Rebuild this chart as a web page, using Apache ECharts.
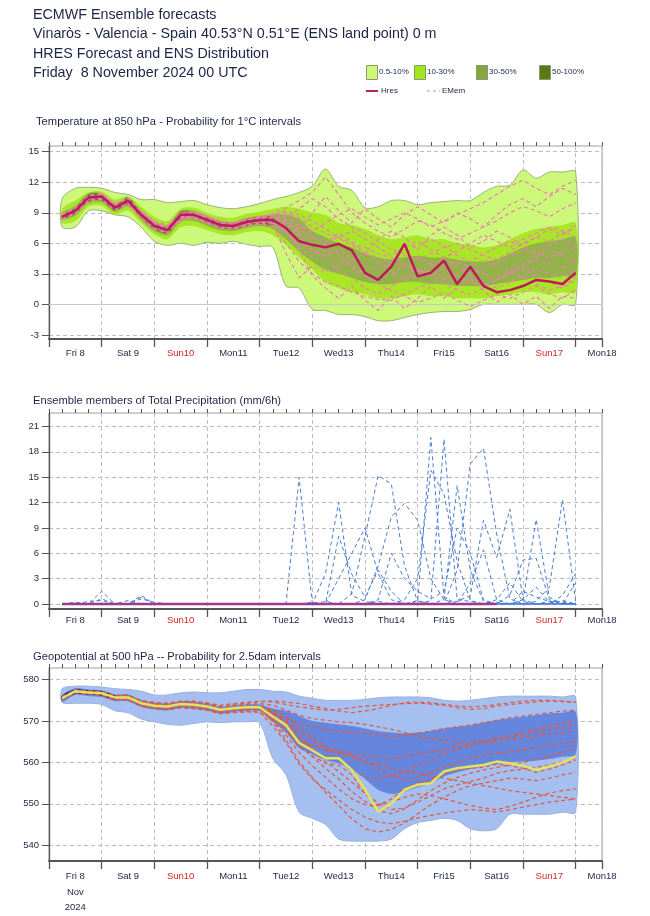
<!DOCTYPE html>
<html><head><meta charset="utf-8">
<script src="https://cdn.jsdelivr.net/npm/echarts@6/dist/echarts.min.js"></script>
<style>html,body{margin:0;padding:0;background:#fff}#c{width:650px;height:916px}</style>
</head><body><div id="c"></div>
<script>
// ---------- time axis (hours from Fri 8 Nov 2024 00 UTC) ----------
const hours = [6,12,18,24,30,36,42,48,54,60,66,72,78,84,90,96,102,108,114,120,126,132,138,144,150,156,162,168,174,180,186,192,198,204,210,216,222,228,234,240];
const dayLabels = ['', 'Fri 8', '', 'Sat 9', '', 'Sun10', '', 'Mon11', '', 'Tue12', '', 'Wed13', '', 'Thu14', '', 'Fri15', '', 'Sat16', '', 'Sun17', '', 'Mon18'];
const sundayLabels = ['Sun10', 'Sun17'];
const dateLines = ['Nov', '2024'];

// ---------- Temperature 850 hPa ----------
const tTicks = [-3, 0, 3, 6, 9, 12, 15];
const tHres = [8.6,9.2,10.5,10.6,9.5,10.2,8.8,7.7,7.3,8.8,8.8,8.3,7.8,7.7,8.1,8.3,8.3,7.5,6.2,5.85,5.6,5.95,5.3,3.1,2.4,3.7,5.95,2.75,3.1,4.3,2.0,3.7,1.8,1.2,1.4,1.8,2.4,2.25,2.0,3.1];
const tOuterLo = [7.6,7.6,9.2,9.2,8.8,8.6,7.6,6.2,5.8,6.0,5.8,6.1,6.0,6.2,5.9,5.7,5.6,1.8,1.6,-0.5,-0.6,-1.0,-1.0,-1.2,-1.6,-1.6,-1.3,-1.0,-0.8,-0.7,-0.7,-0.5,0.0,0.0,0.0,0.0,0.0,-0.8,0.0,0.0];
const tOuterHi = [10.4,11.4,11.5,11.4,11.0,10.8,10.3,10.3,10.0,10.1,10.2,9.8,9.5,9.4,9.6,9.9,10.3,10.6,11.0,11.6,13.3,11.6,11.2,9.5,9.6,10.2,10.2,9.8,10.0,10.1,10.2,10.2,11.0,11.6,11.7,13.2,12.4,13.0,13.0,13.0];
const tMidLo = [8.0,8.2,9.6,9.7,8.8,9.2,8.0,6.9,6.4,7.6,7.7,7.3,6.9,6.8,7.1,7.2,6.8,5.8,4.6,3.4,2.2,1.6,1.2,1.0,0.6,0.6,0.8,1.0,0.8,0.8,0.6,0.6,0.6,0.8,1.0,1.2,1.2,1.0,1.2,1.2];
const tMidHi = [9.4,10.2,11.0,11.1,10.3,10.6,9.6,8.6,8.2,9.4,9.5,9.0,8.6,8.5,8.9,9.1,9.4,9.6,9.4,9.0,8.8,8.0,7.8,7.4,6.8,6.4,6.6,6.8,6.4,6.4,6.0,5.8,5.6,5.8,6.4,7.0,7.4,7.6,7.8,8.0];
const tOlvLo = [8.3,8.7,9.9,10.0,9.1,9.6,8.3,7.2,6.8,8.1,8.2,7.7,7.3,7.2,7.5,7.7,7.4,6.4,5.2,4.2,3.4,3.0,2.6,2.2,2.0,2.0,2.2,2.2,2.0,2.0,1.8,1.8,1.8,2.0,2.2,2.4,2.6,2.6,2.8,2.8];
const tOlvHi = [9.0,9.7,10.9,10.9,9.9,10.4,9.2,8.2,7.8,9.2,9.2,8.7,8.2,8.1,8.5,8.7,8.8,8.8,8.4,7.2,6.6,6.0,5.6,5.0,4.6,4.4,4.6,4.8,4.6,4.6,4.4,4.2,4.2,4.4,5.0,5.6,6.0,6.2,6.4,6.6];
const tDarkHours = [6,12,18,24,30,36,42,48,54,60,66,72,78,84,90,96,102];
const tDarkLo = [8.4,8.9,10.1,10.2,9.2,9.8,8.5,7.4,7.0,8.4,8.5,8.0,7.5,7.4,7.7,7.9,7.8];
const tDarkHi = [8.8,9.5,10.8,10.8,9.8,10.5,9.0,8.0,7.6,9.1,9.0,8.6,8.1,8.0,8.4,8.6,8.7];
const tMem1 = [8.8,9.4,10.3,10.8,9.8,10.0,9.0,8.0,7.6,8.6,9.0,8.5,8.0,7.9,8.3,8.6,8.8,9.0,8.5,7.6,7.0,6.5,5.8,5.2,4.6,4.0,3.6,3.2,3.8,4.4,3.9,3.0,3.5,4.2,4.8,5.3,5.0,4.6,5.2,5.6];
const tMem2 = [8.4,9.0,10.2,10.4,9.4,9.9,8.6,7.5,7.0,8.4,8.6,8.0,7.6,7.5,7.8,8.0,7.6,6.0,4.2,3.0,2.2,1.8,1.2,0.8,0.5,0.4,1.0,1.6,2.2,2.0,1.4,1.0,1.6,2.5,3.2,3.8,4.4,4.0,3.6,4.2];
const tMem3 = [8.7,9.1,10.6,10.5,9.7,10.4,9.2,8.2,7.5,8.2,8.9,8.6,8.1,7.6,7.9,8.4,8.9,9.5,10.2,11.0,12.5,10.8,9.0,8.0,7.2,6.6,7.4,8.2,7.8,7.0,6.4,7.0,7.6,8.2,9.0,9.6,9.2,8.6,9.4,10.0];
const tMem4 = [8.5,9.3,10.4,10.7,9.6,10.1,8.9,7.8,7.4,8.7,8.7,8.2,7.7,7.8,8.2,8.2,8.0,7.2,6.8,5.2,4.8,5.4,4.6,3.8,3.4,4.2,4.8,4.4,5.0,5.6,6.0,5.4,4.8,4.4,5.2,6.0,6.6,6.2,7.0,7.4];
const tMem5 = [8.6,9.2,10.5,10.6,9.5,10.3,8.7,7.6,7.2,8.9,8.8,8.4,7.9,7.7,8.0,8.5,8.6,8.2,7.4,6.6,5.8,4.9,3.6,2.8,2.0,1.4,0.8,0.2,0.6,1.2,0.4,-0.2,0.4,1.0,0.6,1.2,1.8,1.0,0.6,1.4];
const tMem6 = [8.9,9.5,10.7,10.9,9.9,10.5,9.1,8.1,7.8,9.0,9.1,8.7,8.2,8.0,8.4,8.6,8.9,8.8,8.0,6.8,6.2,6.6,7.2,6.4,5.6,4.8,5.6,6.2,5.4,4.6,5.2,6.0,6.8,6.2,5.6,6.4,7.0,7.6,7.2,6.6];
const tMem7 = [8.3,8.9,10.1,10.3,9.2,9.8,8.5,7.4,7.0,8.5,8.5,8.0,7.5,7.4,7.7,7.9,7.9,5.0,2.6,3.8,3.2,3.8,4.4,5.0,4.2,3.2,2.4,2.8,3.4,2.6,2.0,2.8,2.2,1.6,2.2,2.8,3.4,3.0,2.6,3.4];
const tMem8 = [8.7,9.3,10.6,10.8,9.7,10.2,8.9,7.9,7.4,8.8,8.9,8.4,7.8,7.6,8.1,8.4,8.5,8.6,9.4,10.4,9.6,8.4,7.6,7.0,6.2,5.4,5.0,5.8,6.4,5.8,4.8,4.2,5.0,5.6,6.2,5.6,5.0,5.8,6.4,5.8];
const tMem9 = [8.5,9.1,10.4,10.5,9.4,10.1,8.8,7.7,7.2,8.6,8.7,8.2,7.8,7.6,8.0,8.1,8.0,7.0,6.0,5.4,4.4,3.4,2.6,1.6,1.0,1.8,2.6,3.4,2.8,3.6,4.2,3.6,3.0,2.4,3.0,3.6,2.8,2.2,1.6,2.4];
const tMem10 = [8.8,9.4,10.5,10.7,9.6,10.2,8.9,7.8,7.4,8.8,8.9,8.4,7.9,7.8,8.2,8.5,8.6,8.4,7.8,7.2,8.0,8.8,9.4,8.6,7.8,8.4,9.0,8.4,7.6,8.2,8.8,9.4,10.0,10.8,11.6,12.2,11.4,10.8,11.6,12.2];
const tMem11 = [8.6,9.0,10.3,10.4,9.3,10.0,8.6,7.5,7.1,8.6,8.6,8.1,7.6,7.5,7.9,8.1,8.2,7.8,7.0,6.0,5.2,4.4,3.8,3.0,2.6,3.0,3.8,4.6,4.0,3.4,2.8,2.2,1.8,2.4,3.2,4.0,4.6,5.4,4.8,4.2];
const tMem12 = [8.7,9.4,10.7,10.8,9.8,10.4,9.0,8.0,7.6,9.0,9.0,8.6,8.0,7.9,8.3,8.5,8.8,9.2,8.8,8.2,7.4,6.6,6.0,5.6,5.0,4.6,4.0,3.4,2.8,2.4,3.0,3.8,4.4,3.8,3.2,2.6,2.0,1.4,1.8,2.6];
const tMem13 = [8.5,9.2,10.4,10.6,9.6,10.1,8.8,7.7,7.3,8.7,8.8,8.3,7.8,7.7,8.0,8.3,8.4,8.0,7.2,9.0,10.6,9.2,8.0,9.4,8.4,7.6,8.8,9.6,8.8,8.0,9.0,8.4,7.6,8.8,9.8,10.4,9.6,10.6,11.4,10.8];
const tMem14 = [8.6,9.3,10.5,10.7,9.5,10.2,8.8,7.8,7.4,8.8,8.8,8.3,7.8,7.7,8.1,8.3,8.2,7.4,5.6,4.6,6.0,7.0,6.2,5.0,6.4,7.2,6.6,5.4,6.8,7.6,6.8,5.6,6.2,7.2,6.6,5.8,6.6,7.4,6.8,7.8];
const tMem15 = [8.7,9.2,10.5,10.6,9.5,10.2,8.9,7.7,7.3,8.8,8.7,8.3,7.8,7.8,8.1,8.3,8.3,7.2,5.4,2.8,1.6,0.6,1.8,0.4,-0.6,0.8,-0.4,0.6,1.8,0.6,1.6,2.6,1.4,0.2,1.0,0.0,0.8,-0.4,0.8,0.6];

// ---------- Precipitation (mm/6h) ----------
const pTicks = [0, 3, 6, 9, 12, 15, 18, 21];
const pHres = [0,0,0,0,0,0,0,0,0,0,0,0,0,0,0,0,0,0,0,0,0,0,0,0,0,0,0,0,0,0,0,0,0,0,null,null,null,null,null,null];
const pMem1 = [0,0.2,0,0,0,0.4,0,0,0,0,0,0,0,0,0,0,0,0,15.0,0,0,0,0,0,0.3,0,0,0.4,0,0,0,0,0,0.2,0,0,0,0,0,0];
const pMem2 = [0,0,0,1.5,0,0,0,0,0,0,0,0,0,0,0,0,0,0,0,0,3.6,12.0,1.0,0.3,0,0,0,0,0,0.5,14.0,4.0,0.3,0,0,0,0,0,0.4,0];
const pMem3 = [0,0,0,0.6,0,0,1.0,0,0,0,0,0,0,0,0,0,0,0,0,0,0,8.0,3.5,0.8,4.0,1.5,0,0,0,0,0,0,0,0,1.0,5.2,5.4,0.5,0,0];
const pMem4 = [0,0,0.3,0.4,0,0,0.6,0.2,0,0,0,0,0,0,0,0,0,0,0,0,0,3.0,6.0,9.0,3.6,0.5,0,0,0,0,0,2.5,6.4,0.5,0,0,0,0,0,0];
const pMem5 = [0,0,0,0,0,0,0.8,0,0,0,0,0,0,0,0,0,0,0,0,0,0,0,1.2,8.0,15.2,14.2,4.5,0.3,0,0,0,0,0,0.5,2.5,0.3,0,0,0,0];
const pMem6 = [0,0,0,0,0,0,0,0,0,0,0,0,0,0,0,0,0,0,0,0,0,0,0,0.5,4.5,10.3,11.9,9.9,3.0,0.5,0,0,0,0,0,0.4,10.0,0.8,0,0];
const pMem7 = [0,0,0,0,0,0,0,0,0,0,0,0,0,0,0,0,0,0,0,0,0,0,0,0,0,0,0,0.3,19.7,0.8,0,0,0,0,0,0,0.3,2.0,12.3,0.3];
const pMem8 = [0,0,0,0,0,0,0,0,0,0,0,0,0,0,0,0,0,0,0,0,0.3,0,0,0,0,0,0,0,0.4,19.5,0.5,0.3,0,0,0,0.5,2.0,0.2,0,0];
const pMem9 = [0,0,0,0,0,0,0,0,0,0,0,0,0,0,0,0,0,0,0,0,0,0,0,0,0,0,0,0,0,0,4.0,16.6,18.4,8.3,0.6,0,0,0,1.0,3.6];
const pMem10 = [0,0,0,0,0,0,0,0,0,0,0,0,0,0,0,0,0,0,0,0,0,0,0,0,0,0,0.5,3.0,15.8,13.0,5.0,0.4,0,0,0,0,0,0,0,0];
const pMem11 = [0,0,0,0,0,0,0,0,0,0,0,0,0,0,0,0,0,0,0,0,0,0,0,0,0,0,0,0,0,0,0.3,1.0,9.9,5.5,11.2,0.5,0,0.3,0.2,0];
const pMem12 = [0,0,0,0,0,0,0,0,0,0,0,0,0,0,0,0,0,0,0,0.2,0,0,0,0,0.5,6.0,3.0,1.5,0.6,1.5,9.0,6.0,0.5,0,0,1.5,0.8,0.3,0,2.5];

// ---------- Geopotential 500 hPa (dam) ----------
const gTicks = [540, 550, 560, 570, 580];
const gHres = [575.5,577.2,576.9,576.7,575.7,575.7,574.3,573.7,573.5,574.1,573.9,573.5,572.7,573.1,573.3,573.3,571.1,569.0,564.7,562.9,561.0,561.0,558.2,553.4,548.1,550.1,553.4,554.6,555.0,557.8,558.6,559.0,559.4,560.2,559.8,559.2,558.2,559.0,560.0,561.4];
const gOuterLo = [574.5,574.3,574.3,574.0,572.5,572.0,570.5,569.8,569.2,569.0,569.4,569.8,569.6,569.8,569.8,569.5,561.0,557.0,548.0,546.5,545.0,541.5,541.0,541.0,541.0,541.5,544.0,545.5,546.0,546.5,546.0,544.0,543.5,544.0,547.5,547.5,547.5,547.5,548.0,548.0];
const gOuterHi = [577.8,578.4,578.4,578.2,577.8,577.6,577.2,576.3,576.3,576.8,577.0,576.8,576.8,577.2,577.6,577.6,577.2,577.0,576.0,575.5,575.0,575.0,575.0,575.2,575.6,575.8,575.8,575.8,575.6,575.0,574.8,575.0,575.4,575.8,576.0,576.0,576.0,576.0,575.8,575.8];
const gCoreLo = [574.6,576.3,576.0,575.8,574.8,574.8,573.4,572.8,572.6,573.2,573.0,572.6,571.8,572.2,572.4,572.4,570.0,567.2,563.4,562.0,560.6,559.8,558.4,556.0,553.4,552.4,553.0,554.0,555.0,556.6,557.6,558.4,559.0,559.6,560.0,560.2,560.4,560.8,561.4,562.0];
const gCoreHi = [576.2,577.9,577.6,577.4,576.4,576.4,575.0,574.4,574.2,574.8,574.6,574.2,573.4,573.8,574.0,574.0,573.0,572.4,571.2,570.0,569.6,569.2,568.8,568.2,567.6,567.2,567.0,567.2,567.6,568.2,568.6,569.0,569.6,570.2,570.6,571.0,571.4,571.8,572.0,572.2];
const gNavyHours = [6,12,18,24,30];
const gNavyLo = [575.2,576.6,576.4,576.1,575.2];
const gNavyHi = [576.2,577.6,577.4,577.2,576.2];
const gMem1 = [576.0,577.4,577.3,577.1,576.2,576.3,575.0,574.5,574.3,574.8,574.8,574.4,573.8,574.2,574.5,574.8,574.6,574.0,573.4,573.0,572.6,572.8,573.2,573.6,573.8,574.0,574.2,574.3,574.1,573.8,573.2,572.8,573.0,573.6,574.0,574.3,574.6,574.8,574.7,574.5];
const gMem2 = [575.2,576.9,576.6,576.3,575.2,575.1,573.8,573.2,573.0,573.6,573.4,573.0,572.2,572.6,572.8,572.6,571.8,570.6,569.4,568.6,568.0,567.6,567.2,567.0,566.6,566.2,566.6,567.0,567.6,568.2,568.6,569.0,569.6,570.2,570.8,571.2,571.6,572.0,572.4,572.6];
const gMem3 = [575.8,577.0,576.7,576.3,575.4,575.2,573.9,573.1,572.8,573.2,573.0,572.6,571.8,572.0,572.2,572.1,570.2,567.4,565.0,564.0,563.6,562.8,562.0,561.6,561.2,560.8,561.4,562.0,562.6,563.2,563.8,564.6,565.2,565.8,566.2,566.8,567.4,568.0,568.6,569.0];
const gMem4 = [575.4,577.1,576.8,576.6,575.6,575.4,574.0,573.4,573.2,573.8,573.6,573.2,572.4,572.8,573.0,573.0,570.6,568.0,563.8,561.6,559.8,559.4,557.0,552.4,549.6,551.2,553.6,555.0,555.8,557.4,558.2,558.6,558.8,559.6,559.2,558.6,557.6,558.4,559.4,560.6];
const gMem5 = [575.6,577.3,577.0,576.9,575.9,576.0,574.6,574.0,573.8,574.4,574.2,573.8,573.0,573.3,573.4,573.2,569.8,565.4,560.2,556.4,552.8,549.6,546.4,544.0,543.2,543.8,545.4,547.6,549.8,551.6,553.2,554.4,555.0,555.6,556.2,556.0,555.6,556.2,557.0,557.6];
const gMem6 = [575.3,577.0,576.8,576.5,575.5,575.6,574.2,573.6,573.4,573.9,573.7,573.3,572.6,573.0,573.2,573.4,572.4,570.0,566.2,563.0,560.2,557.8,555.2,552.6,550.2,548.6,549.0,550.4,552.0,553.6,554.6,555.4,556.2,557.4,558.0,558.4,558.8,559.4,560.2,561.0];
const gMem7 = [575.6,577.2,577.0,576.8,575.8,575.8,574.4,573.8,573.6,574.2,574.0,573.6,572.8,573.2,573.4,573.6,572.8,571.2,568.4,566.2,564.0,562.6,561.2,560.2,559.4,558.6,558.0,557.4,556.8,556.2,555.6,555.0,554.4,553.8,553.2,552.8,552.4,552.0,551.6,551.2];
const gMem8 = [575.7,577.5,577.2,577.0,576.0,576.1,574.8,574.2,574.0,574.6,574.6,574.2,573.4,573.8,574.0,574.2,573.8,572.6,571.4,570.6,570.2,569.8,569.6,569.2,568.6,568.0,567.2,566.4,565.8,565.4,565.0,564.8,565.0,565.6,566.4,567.2,568.0,568.8,569.4,570.0];
const gMem9 = [575.1,576.8,576.5,576.2,575.1,575.0,573.6,573.0,572.7,573.2,573.0,572.6,571.8,572.2,572.4,572.2,568.8,564.8,559.6,556.0,553.4,551.0,548.6,546.8,545.6,545.2,545.8,546.6,547.2,547.8,548.2,548.6,548.4,548.0,548.6,549.2,549.8,550.4,550.8,551.2];
const gMem10 = [575.9,577.3,577.1,576.9,575.9,575.9,574.5,573.9,573.7,574.3,574.1,573.7,572.9,573.3,573.5,573.5,571.8,569.6,566.0,564.2,563.0,562.2,561.6,560.4,558.6,556.8,556.0,556.4,557.6,558.8,560.0,561.0,561.8,562.2,562.6,563.0,563.6,564.2,564.6,565.0];
const gMem11 = [575.8,577.4,577.2,577.0,576.1,576.2,574.9,574.4,574.2,574.7,574.7,574.3,573.6,574.0,574.3,574.6,574.9,574.6,574.2,573.6,573.0,572.4,572.0,572.4,573.0,573.8,574.4,574.6,574.4,574.0,573.6,573.4,573.6,574.0,574.4,574.8,575.0,575.0,574.8,574.6];
const gMem12 = [575.4,577.0,576.7,576.5,575.5,575.4,574.0,573.4,573.2,573.8,573.6,573.2,572.4,572.8,573.0,572.8,570.0,566.6,562.4,559.2,556.4,553.6,551.2,549.8,549.6,550.4,551.6,552.4,552.0,551.2,550.4,549.6,549.0,548.6,549.4,550.4,551.6,552.6,553.2,553.6];
const gMem13 = [575.6,577.2,577.0,576.8,575.8,575.7,574.3,573.7,573.5,574.0,573.9,573.5,572.7,573.1,573.3,573.3,572.0,570.2,567.6,565.4,563.0,560.4,558.0,556.6,556.0,556.6,557.8,559.2,560.6,562.0,563.2,564.0,564.6,565.2,565.6,566.0,566.4,566.8,567.2,567.6];
const gMem14 = [575.5,577.1,576.9,576.6,575.6,575.6,574.2,573.6,573.4,574.0,573.8,573.4,572.6,573.0,573.2,573.2,571.4,569.2,565.0,561.4,558.6,556.0,553.0,550.6,548.4,547.6,548.8,551.0,553.2,555.0,556.4,557.4,558.2,558.8,559.4,560.0,560.8,561.6,562.4,563.2];

// ---------- styling ----------
const FONT = 'Liberation Sans, Arial, sans-serif';
const TXT = '#1c2548';
const RED = '#d02828';

const tMembers = [tMem1,tMem2,tMem3,tMem4,tMem5,tMem6,tMem7,tMem8,tMem9,tMem10,tMem11,tMem12,tMem13,tMem14,tMem15];
const pMembers = [pMem1,pMem2,pMem3,pMem4,pMem5,pMem6,pMem7,pMem8,pMem9,pMem10,pMem11,pMem12];
const gMembers = [gMem1,gMem2,gMem3,gMem4,gMem5,gMem6,gMem7,gMem8,gMem9,gMem10,gMem11,gMem12,gMem13,gMem14];

const grids = [
  {left: 49, right: 48, top: 146, height: 193},
  {left: 49, right: 48, top: 413, height: 196},
  {left: 49, right: 48, top: 668, height: 193}
];
const yRanges = [[-3.4, 15.56, tTicks], [-0.6, 22.6, pTicks], [536.2, 582.8, gTicks]];
const labelMargins = [8, 5, 8];

const xAxes = [], yAxes = [];
grids.forEach((g, gi) => {
  xAxes.push({
    type: 'value', gridIndex: gi, min: 0, max: 252, interval: 24,
    axisLine: {show: true, onZero: false, lineStyle: {color: '#555', width: 2}},
    axisTick: {show: true, length: 8, lineStyle: {color: '#555', width: 1.3}},
    axisLabel: {show: false},
    splitLine: {show: true, lineStyle: {color: '#bdbdbd', type: [4, 3], width: 1}}
  });
  xAxes.push({
    type: 'value', gridIndex: gi, min: 0, max: 252, interval: 6,
    axisLine: {show: false, onZero: false},
    axisTick: {show: true, length: 4, lineStyle: {color: '#555', width: 1}},
    axisLabel: {show: false}, splitLine: {show: false}
  });
  xAxes.push({
    type: 'category', gridIndex: gi, data: dayLabels, boundaryGap: false, position: 'bottom',
    axisLine: {show: false, onZero: false}, axisTick: {show: false}, splitLine: {show: false},
    axisLabel: {
      interval: 0, margin: labelMargins[gi], fontSize: 9.5, fontFamily: FONT, color: TXT,
      lineHeight: gi === 2 ? 15.5 : 12,
      rich: {r: {color: RED, fontSize: 9.5, fontFamily: FONT, lineHeight: gi === 2 ? 15.5 : 12}},
      formatter: function (v, idx) {
        if (!v) return '';
        if (sundayLabels.indexOf(v) >= 0) return '{r|' + v + '}';
        if (gi === 2 && idx === 1) return [v].concat(dateLines).join('\n');
        return v;
      }
    }
  });
  yAxes.push({
    type: 'value', gridIndex: gi, min: yRanges[gi][0], max: yRanges[gi][1],
    axisLine: {show: true, onZero: false, lineStyle: {color: '#555', width: 1.3}},
    axisTick: {show: true, length: 7, customValues: yRanges[gi][2], lineStyle: {color: '#555'}},
    axisLabel: {customValues: yRanges[gi][2], margin: 10, fontSize: 9.5, fontFamily: FONT, color: TXT},
    splitLine: {show: true, lineStyle: {color: '#bdbdbd', type: [4, 3], width: 1}}
  });
});

function band(gi, xs, lo, hi, fill, stroke, z) {
  return {
    type: 'custom', xAxisIndex: gi * 3, yAxisIndex: gi, z: z, silent: true, clip: true,
    data: [[xs[0], lo[0]]],
    renderItem: function (params, api) {
      const pts = [];
      for (let i = 0; i < xs.length; i++) pts.push(api.coord([xs[i], hi[i]]));
      for (let i = xs.length - 1; i >= 0; i--) pts.push(api.coord([xs[i], lo[i]]));
      return {type: 'polygon', shape: {points: pts, smooth: 0.3},
        style: {fill: fill, stroke: stroke || null, lineWidth: stroke ? 1 : 0}};
    }
  };
}
function members(gi, list, color, w) {
  return list.map(arr => ({
    type: 'line', xAxisIndex: gi * 3, yAxisIndex: gi, z: 5, silent: true,
    data: hours.map((h, i) => [h, arr[i]]), symbol: 'none',
    lineStyle: {color: color, width: w, type: [4, 3]}
  }));
}
function hres(gi, arr, color, width) {
  return {
    type: 'line', xAxisIndex: gi * 3, yAxisIndex: gi, z: 8, silent: true,
    data: hours.map((h, i) => [h, arr[i]]), symbol: 'none', connectNulls: false,
    lineStyle: {color: color, width: width}
  };
}

const series = [];
series.push({type: 'line', xAxisIndex: 0, yAxisIndex: 0, data: [], z: 1, silent: true,
  markLine: {silent: true, symbol: 'none', label: {show: false},
    lineStyle: {color: '#c8c8c8', type: 'solid', width: 1}, data: [{yAxis: 0}]}});
series.push(band(0, hours, tOuterLo, tOuterHi, '#ccf97a', '#9bb27a', 2));
series.push(band(0, hours, tMidLo, tMidHi, '#a8e626', null, 3));
series.push(band(0, hours, tOlvLo, tOlvHi, '#93b34a', null, 4));
series.push(band(0, tDarkHours, tDarkLo, tDarkHi, '#5a7a18', null, 4));
series.push(...members(0, tMembers, '#ef7fb2', 1.2));
series.push(hres(0, tHres, '#bd1a58', 2.5));

series.push(...members(1, pMembers, '#4a7ed2', 1));
series.push(hres(1, pHres, '#a03a90', 2.5));

series.push(band(2, hours, gOuterLo, gOuterHi, '#a6bff1', '#9ab0e0', 2));
series.push(band(2, hours, gCoreLo, gCoreHi, '#6686de', null, 3));
series.push(band(2, gNavyHours, gNavyLo, gNavyHi, '#1e2c6e', null, 4));
series.push(...members(2, gMembers, '#e2583f', 1.2));
series.push(hres(2, gHres, '#e3e35a', 2.5));

const titleStyle = {fontSize: 14.3, fontWeight: 'normal', color: TXT, fontFamily: FONT};
const subStyle = {fontSize: 11.2, fontWeight: 'normal', color: TXT, fontFamily: FONT};
const titles = [
  {text: 'ECMWF Ensemble forecasts', left: 33, top: 8},
  {text: 'Vinaròs - Valencia - Spain 40.53°N 0.51°E (ENS land point) 0 m', left: 33, top: 27},
  {text: 'HRES Forecast and ENS Distribution', left: 33, top: 47},
  {text: 'Friday  8 November 2024 00 UTC', left: 33, top: 66}
].map(t => Object.assign({padding: 0, textStyle: titleStyle}, t)).concat([
  {text: 'Temperature at 850 hPa - Probability for 1°C intervals', left: 36, top: 116},
  {text: 'Ensemble members of Total Precipitation (mm/6h)', left: 33, top: 395},
  {text: 'Geopotential at 500 hPa -- Probability for 2.5dam intervals', left: 33, top: 651}
].map(t => Object.assign({padding: 0, textStyle: subStyle}, t)));

const legendItems = [
  {label: '0.5-10%', color: '#ccf97a', x: 366},
  {label: '10-30%', color: '#a4e61c', x: 414},
  {label: '30-50%', color: '#88a640', x: 476},
  {label: '50-100%', color: '#5a7a18', x: 539}
];
const graphics = [];
legendItems.forEach(it => {
  graphics.push({type: 'rect', left: it.x, top: 65, shape: {width: 11, height: 14},
    style: {fill: it.color, stroke: '#8a9a70', lineWidth: 1}});
  graphics.push({type: 'text', left: it.x + 13, top: 68,
    style: {text: it.label, fontSize: 8, fontFamily: FONT, fill: TXT}});
});
graphics.push({type: 'line', shape: {x1: 366, y1: 91, x2: 378, y2: 91}, style: {stroke: '#c21d5e', lineWidth: 2}});
graphics.push({type: 'text', left: 381, top: 87, style: {text: 'Hres', fontSize: 8, fontFamily: FONT, fill: TXT}});
graphics.push({type: 'line', shape: {x1: 427, y1: 91, x2: 440, y2: 91}, style: {stroke: '#ef7fb2', lineWidth: 1, lineDash: [3, 3]}});
graphics.push({type: 'text', left: 442, top: 87, style: {text: 'EMem', fontSize: 8, fontFamily: FONT, fill: TXT}});

const chart = echarts.init(document.getElementById('c'));
chart.setOption({
  animation: false,
  backgroundColor: '#fff',
  title: titles,
  grid: grids.map(g => Object.assign({show: true, borderColor: '#a0a0a0', borderWidth: 1, backgroundColor: '#fff'}, g)),
  xAxis: xAxes,
  yAxis: yAxes,
  series: series,
  graphic: graphics
});
</script></body></html>
